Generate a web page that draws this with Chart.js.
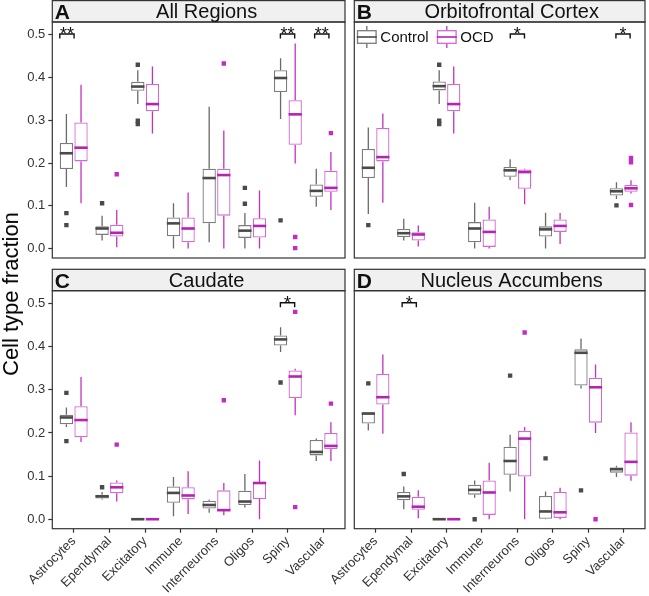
<!DOCTYPE html>
<html>
<head>
<meta charset="utf-8">
<script src="https://cdn.jsdelivr.net/npm/chart.js@4.4.1/dist/chart.umd.min.js"></script>
<style>
  body { margin: 0; background: #fff; }
  #wrap { position: relative; width: 649px; height: 596px; font-family: 'Liberation Sans', Arial, sans-serif; }
  canvas { position: absolute; }
  #ytitle {
    position: absolute; left: 11px; top: 294px;
    transform: translate(-50%, -50%) rotate(-90deg);
    font-size: 22px; white-space: nowrap; color: #000;
  }
</style>
</head>
<body>
<div id="wrap">
  <canvas id="panelA" width="349" height="262" style="left:0;top:0"></canvas>
  <canvas id="panelC" width="349" height="334" style="left:0;top:262px"></canvas>
  <canvas id="panelB" width="349" height="262" style="left:300px;top:0"></canvas>
  <canvas id="panelD" width="349" height="334" style="left:300px;top:262px"></canvas>
  <div id="ytitle">Cell type fraction</div>
</div>
<script>
const cellTypes = ['Astrocytes', 'Ependymal', 'Excitatory', 'Immune', 'Interneurons', 'Oligos', 'Spiny', 'Vascular'];
const yTicks = [0, 0.1, 0.2, 0.3, 0.4, 0.5];

// each box: [lower whisker, q1, median, q3, upper whisker], null = no data
const allControl = [
  [0.144, 0.186, 0.223, 0.247, 0.315], [0.019, 0.032, 0.047, 0.052, 0.077],
  [0.338, 0.369, 0.379, 0.390, 0.417], [0, 0.029, 0.059, 0.073, 0.106],
  [0.015, 0.059, 0.165, 0.187, 0.332], [0, 0.025, 0.042, 0.055, 0.083],
  [0.303, 0.366, 0.399, 0.417, 0.445], [0.098, 0.121, 0.135, 0.150, 0.187]
];
const allOCD = [
  [0.106, 0.204, 0.236, 0.295, 0.383], [0.003, 0.028, 0.037, 0.056, 0.090],
  [0.269, 0.321, 0.338, 0.385, 0.426], [0, 0.015, 0.047, 0.073, 0.131],
  [0, 0.077, 0.172, 0.187, 0.276], [0, 0.026, 0.053, 0.071, 0.136],
  [0.199, 0.243, 0.314, 0.347, 0.480], [0.090, 0.133, 0.142, 0.182, 0.226]
];
const allControlOut = [[0.083, 0.055], [0.106], [0.430, 0.299, 0.291], [], [], [0.142, 0.105], [0.066], []];
const allOCDOut = [[], [0.174], [], [], [0.433], [], [0.027, 0.001], [0.270]];

const ofcControl = [
  [0.081, 0.165, 0.189, 0.233, 0.283], [0.019, 0.027, 0.036, 0.046, 0.070],
  [0.338, 0.370, 0.380, 0.391, 0.417], [0, 0.015, 0.047, 0.062, 0.107],
  [0.160, 0.168, 0.183, 0.191, 0.209], [0, 0.028, 0.045, 0.052, 0.084],
  null, [0.116, 0.124, 0.134, 0.141, 0.155]
];
const ofcOCD = [
  [0.107, 0.204, 0.214, 0.282, 0.316], [0.005, 0.019, 0.033, 0.038, 0.054],
  [0.269, 0.321, 0.338, 0.385, 0.426], [0, 0.004, 0.039, 0.068, 0.098],
  [0.104, 0.140, 0.179, 0.185, 0.187], [0.011, 0.039, 0.053, 0.068, 0.083],
  null, [0.129, 0.133, 0.141, 0.149, 0.160]
];
const ofcControlOut = [[0.055], [], [0.430, 0.299, 0.291], [], [], [], [], [0.101]];
const ofcOCDOut = [[], [], [], [], [], [], [], [0.212, 0.202, 0.102]];

const caudControl = [
  [0.214, 0.220, 0.236, 0.242, 0.259], [0.046, 0.048, 0.053, 0.057, 0.063],
  [0, 0, 0, 0, 0], [0.007, 0.038, 0.061, 0.076, 0.098],
  [0.015, 0.025, 0.033, 0.043, 0.046], [0.027, 0.033, 0.041, 0.066, 0.105],
  [0.388, 0.403, 0.417, 0.426, 0.445], [0.135, 0.148, 0.156, 0.184, 0.187]
];
const caudOCD = [
  [0.179, 0.190, 0.230, 0.262, 0.330], [0.041, 0.060, 0.074, 0.085, 0.090],
  [0, 0, 0, 0, 0], [0.012, 0.046, 0.055, 0.074, 0.111],
  [0.009, 0.019, 0.021, 0.067, 0.084], [0, 0.047, 0.084, 0.086, 0.136],
  [0.241, 0.281, 0.331, 0.345, 0.349], [0.135, 0.163, 0.170, 0.200, 0.225]
];
const caudControlOut = [[0.293, 0.181], [0.074], [], [], [], [], [0.317], []];
const caudOCDOut = [[], [0.173], [], [], [0.276], [], [0.481, 0.028], [0.268]];

const naccControl = [
  [0.206, 0.222, 0.245, 0.248, 0.248], [0.023, 0.044, 0.053, 0.063, 0.076],
  [0, 0, 0, 0, 0], [0.050, 0.057, 0.068, 0.080, 0.090],
  [0.064, 0.103, 0.135, 0.168, 0.196], [0, 0.001, 0.018, 0.054, 0.064],
  [0.303, 0.310, 0.386, 0.394, 0.419], [0.098, 0.108, 0.116, 0.120, 0.124]
];
const naccOCD = [
  [0.198, 0.266, 0.283, 0.337, 0.382], [0.002, 0.022, 0.029, 0.052, 0.067],
  [0, 0, 0, 0, 0], [0, 0.010, 0.062, 0.090, 0.131],
  [0, 0.099, 0.187, 0.205, 0.214], [0, 0.003, 0.016, 0.063, 0.073],
  [0.200, 0.224, 0.306, 0.328, 0.359], [0.089, 0.101, 0.133, 0.201, 0.225]
];
const naccControlOut = [[0.315], [0.105], [], [0.0], [0.333], [0.141], [0.067], []];
const naccOCDOut = [[], [], [], [], [0.433], [], [0.0], []];

const colors = {
  Control: { box: '#7c7c7c', median: '#4a4a4a', whisker: '#6a6a6a', point: '#4a4a4a' },
  OCD: { box: '#d26ad2', median: '#b324b3', whisker: '#c033c0', point: '#c52ac5' }
};
const dodge = 0.205;
const font = "'Liberation Sans', Arial, sans-serif";

function boxDataset(label, stats) {
  const kept = [];
  const data = [];
  stats.forEach((s, i) => {
    if (!s) return;
    kept.push(s);
    data.push({ x: i + 1, y: [s[1], s[3]] });
  });
  return {
    type: 'bar', label: label, data: data, stats: kept,
    backgroundColor: '#ffffff', borderColor: colors[label].box, borderWidth: 1.3,
    borderSkipped: false
  };
}

function outlierDataset(label, outs, shift) {
  const data = [];
  outs.forEach((list, i) => list.forEach(v => data.push({ x: i + 1 + shift, y: v })));
  return {
    type: 'scatter', label: label + ' outliers', data: data,
    pointStyle: 'rect', radius: 3.1, borderWidth: 0,
    backgroundColor: colors[label].point
  };
}

const panelPlugin = {
  id: 'panel',
  beforeDatasetsDraw(chart) {
    const ctx = chart.ctx;
    const y = chart.scales.y;
    chart.data.datasets.forEach((ds, di) => {
      if (!ds.stats) return;
      const meta = chart.getDatasetMeta(di);
      ctx.save();
      ctx.strokeStyle = colors[ds.label].whisker;
      ctx.lineWidth = 1.3;
      meta.data.forEach((el, j) => {
        const s = ds.stats[j];
        ctx.beginPath();
        ctx.moveTo(el.x, y.getPixelForValue(s[0]));
        ctx.lineTo(el.x, y.getPixelForValue(s[1]));
        ctx.moveTo(el.x, y.getPixelForValue(s[3]));
        ctx.lineTo(el.x, y.getPixelForValue(s[4]));
        ctx.stroke();
      });
      ctx.restore();
    });
  },
  afterDatasetsDraw(chart) {
    const ctx = chart.ctx;
    const y = chart.scales.y;
    chart.data.datasets.forEach((ds, di) => {
      if (!ds.stats) return;
      const meta = chart.getDatasetMeta(di);
      ctx.save();
      ctx.strokeStyle = colors[ds.label].median;
      ctx.lineWidth = 2.6;
      meta.data.forEach((el, j) => {
        const py = y.getPixelForValue(ds.stats[j][2]);
        ctx.beginPath();
        ctx.moveTo(el.x - el.width / 2, py);
        ctx.lineTo(el.x + el.width / 2, py);
        ctx.stroke();
      });
      ctx.restore();
    });
  },
  afterDraw(chart, args, opts) {
    const ctx = chart.ctx;
    const a = chart.chartArea;
    const x = chart.scales.x;
    const y = chart.scales.y;
    ctx.save();
    // strip
    ctx.fillStyle = '#f0f0f0';
    ctx.fillRect(a.left, opts.stripTop, a.right - a.left, a.top - opts.stripTop);
    ctx.strokeStyle = '#333';
    ctx.lineWidth = 1.2;
    ctx.strokeRect(a.left, opts.stripTop + 0.6, a.right - a.left, a.top - opts.stripTop - 0.6);
    ctx.strokeRect(a.left, a.top, a.right - a.left, a.bottom - a.top);
    ctx.fillStyle = '#111';
    ctx.textBaseline = 'alphabetic';
    ctx.textAlign = 'left';
    ctx.font = 'bold 21px ' + font;
    ctx.fillText(opts.letter, a.left + 2.5, a.top - 2.8);
    ctx.textAlign = 'center';
    ctx.font = '20px ' + font;
    ctx.fillText(opts.title, (a.left + a.right) / 2 + opts.titleShift, a.top - 4);
    // significance brackets
    ctx.strokeStyle = '#111';
    ctx.lineWidth = 1.4;
    ctx.font = '18px ' + font;
    opts.sig.forEach(s => {
      const x0 = x.getPixelForValue(s.x - 0.2);
      const x1 = x.getPixelForValue(s.x + 0.2);
      const py = y.getPixelForValue(0.502);
      ctx.beginPath();
      ctx.moveTo(x0, py + 4.5);
      ctx.lineTo(x0, py);
      ctx.lineTo(x1, py);
      ctx.lineTo(x1, py + 4.5);
      ctx.stroke();
      ctx.fillText(s.text, (x0 + x1) / 2, py + 6.5);
    });
    // legend
    if (opts.legend) {
      ctx.font = '15px ' + font;
      ctx.textAlign = 'left';
      ctx.textBaseline = 'middle';
      [['Control', 2.5], ['OCD', 82.5]].forEach(([name, dx]) => {
        const lx = a.left + dx;
        const cy = a.top + 15;
        const c = colors[name];
        ctx.strokeStyle = c.whisker;
        ctx.lineWidth = 1.3;
        ctx.beginPath();
        ctx.moveTo(lx + 10, cy - 11);
        ctx.lineTo(lx + 10, cy - 6.3);
        ctx.moveTo(lx + 10, cy + 6.3);
        ctx.lineTo(lx + 10, cy + 11);
        ctx.stroke();
        ctx.strokeStyle = c.box;
        ctx.strokeRect(lx + 0.7, cy - 6.3, 18.6, 12.6);
        ctx.strokeStyle = c.median;
        ctx.lineWidth = 1.6;
        ctx.beginPath();
        ctx.moveTo(lx, cy);
        ctx.lineTo(lx + 20, cy);
        ctx.stroke();
        ctx.fillStyle = '#111';
        ctx.fillText(name, lx + 23.5, cy + 0.5);
      });
    }
    ctx.restore();
  }
};

function makePanel(id, control, ocd, controlOut, ocdOut, cfg) {
  const ctx = document.getElementById(id).getContext('2d');
  return new Chart(ctx, {
    type: 'bar',
    data: {
      datasets: [
        boxDataset('Control', control),
        boxDataset('OCD', ocd),
        outlierDataset('Control', controlOut, -dodge),
        outlierDataset('OCD', ocdOut, dodge)
      ]
    },
    options: {
      responsive: false,
      animation: false,
      events: [],
      layout: { padding: cfg.padding },
      datasets: { bar: { categoryPercentage: 0.82, barPercentage: 0.91 } },
      plugins: { legend: { display: false }, tooltip: { enabled: false }, panel: cfg },
      scales: {
        x: {
          type: 'linear', min: 0.4, max: 8.6, offset: false, display: cfg.showX,
          afterBuildTicks: axis => { axis.ticks = cellTypes.map((c, i) => ({ value: i + 1 })); },
          afterFit: axis => {
            if (cfg.showX) axis.height = 67.3;
            axis.paddingLeft = 0;
            axis.paddingRight = 0;
          },
          ticks: {
            autoSkip: false, minRotation: 45, maxRotation: 45, padding: 1,
            color: '#333', font: { family: font, size: 13 },
            callback: v => cellTypes[v - 1]
          },
          grid: { offset: false, drawOnChartArea: false, tickLength: 4, color: '#333', tickWidth: 1.2 },
          border: { display: false }
        },
        y: {
          min: -0.022, max: 0.53, display: cfg.showY,
          afterBuildTicks: axis => { axis.ticks = yTicks.map(v => ({ value: v })); },
          afterFit: axis => {
            if (cfg.showY) axis.width = 52.3;
            axis.paddingTop = 0;
            axis.paddingBottom = 0;
          },
          ticks: {
            padding: 3, color: '#333', font: { family: font, size: 13 },
            callback: v => v.toFixed(1)
          },
          grid: { drawOnChartArea: false, tickLength: 4, color: '#333', tickWidth: 1.2 },
          border: { display: false }
        }
      }
    },
    plugins: [panelPlugin]
  });
}

makePanel('panelA', allControl, allOCD, allControlOut, allOCDOut, {
  letter: 'A', title: 'All Regions', titleShift: 8, stripTop: 0,
  showX: false, showY: true, legend: false,
  padding: { top: 22, left: 0, right: 2, bottom: 2 },
  sig: [{ x: 0.81, text: '**' }, { x: 6.99, text: '**' }, { x: 7.95, text: '**' }]
});
makePanel('panelB', ofcControl, ofcOCD, ofcControlOut, ofcOCDOut, {
  letter: 'B', title: 'Orbitofrontal Cortex', titleShift: 12, stripTop: 0,
  showX: false, showY: false, legend: true,
  padding: { top: 22, left: 54.3, right: 2, bottom: 2 },
  sig: [{ x: 5.0, text: '*' }, { x: 7.98, text: '*' }]
});
makePanel('panelC', caudControl, caudOCD, caudControlOut, caudOCDOut, {
  letter: 'C', title: 'Caudate', titleShift: 8, stripTop: 6.7,
  showX: true, showY: true, legend: false,
  padding: { top: 28.7, left: 0, right: 2, bottom: 0 },
  sig: [{ x: 6.99, text: '*' }]
});
makePanel('panelD', naccControl, naccOCD, naccControlOut, naccOCDOut, {
  letter: 'D', title: 'Nucleus Accumbens', titleShift: 12, stripTop: 6.7,
  showX: true, showY: false, legend: false,
  padding: { top: 28.7, left: 54.3, right: 2, bottom: 0 },
  sig: [{ x: 1.95, text: '*' }]
});
</script>
</body>
</html>
